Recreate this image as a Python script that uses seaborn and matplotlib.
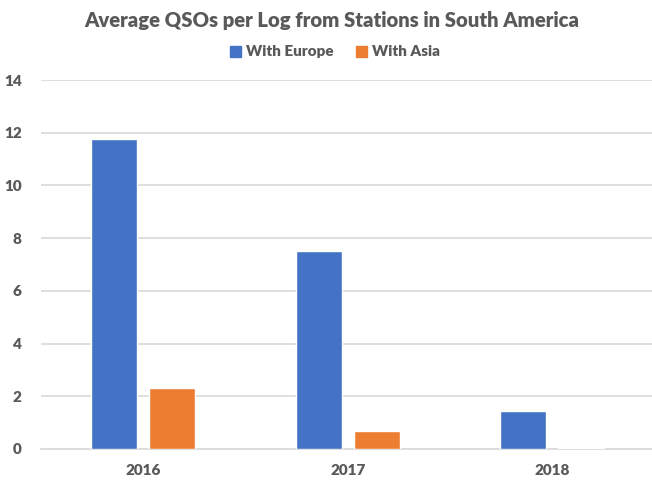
import matplotlib
matplotlib.use("Agg")
import matplotlib.pyplot as plt
import seaborn as sns
import pandas as pd

years = ["2016", "2017", "2018"]
with_europe = [11.75, 7.51, 1.43]
with_asia = [2.30, 0.68, 0.05]
series_names = ["With Europe", "With Asia"]
colors = ["#4472C4", "#ED7D31"]

df = pd.DataFrame({
    "Year": years * 2,
    "QSOs": with_europe + with_asia,
    "Series": [series_names[0]] * 3 + [series_names[1]] * 3,
})

sns.set_theme(style="white")
plt.rcParams["font.family"] = ["Lato", "DejaVu Sans"]
text_color = "#595959"
grid_color = "#D9D9D9"
weight = "heavy"

W, H = 652, 480
fig = plt.figure(figsize=(W / 100, H / 100), dpi=100)
ax = fig.add_axes([41 / W, 1 - 449 / H, (654.5 - 41) / W, (449 - 80) / H])

sns.barplot(data=df, x="Year", y="QSOs", hue="Series", palette=colors,
            width=0.567, gap=0.207, ax=ax, legend=False, saturation=1)

ax.set_ylim(0, 14)
ax.set_xlim(-0.5, 2.5)
ax.set_yticks(range(0, 15, 2))
ax.set_xlabel("")
ax.set_ylabel("")
ax.yaxis.grid(True, color=grid_color, linewidth=1.2)
ax.set_axisbelow(True)
for side in ["left", "right", "top"]:
    ax.spines[side].set_visible(False)
ax.spines["bottom"].set_color(grid_color)
ax.spines["bottom"].set_linewidth(1.2)
ax.spines["bottom"].set_zorder(0.5)
ax.tick_params(axis="both", length=0, colors=text_color, labelsize=11)
ax.tick_params(axis="x", pad=11)
ax.tick_params(axis="y", pad=14)
for lab in ax.get_xticklabels() + ax.get_yticklabels():
    lab.set_fontweight(weight)
    lab.set_color(text_color)

fig.text(332 / W, 1 - 20 / H, "Average QSOs per Log from Stations in South America",
         ha="center", va="center", fontsize=14.6, fontweight=weight, color=text_color)

handles = [plt.Rectangle((0, 0), 1, 1, color=c) for c in colors]
fig.legend(handles, series_names, loc="center", bbox_to_anchor=(335 / W, 1 - 52 / H),
           ncol=2, frameon=False, handlelength=0.75, handleheight=0.75,
           handletextpad=0.35, columnspacing=1.4,
           prop={"weight": weight, "size": 11}, labelcolor=text_color)

fig.savefig("out.png", dpi=100)
